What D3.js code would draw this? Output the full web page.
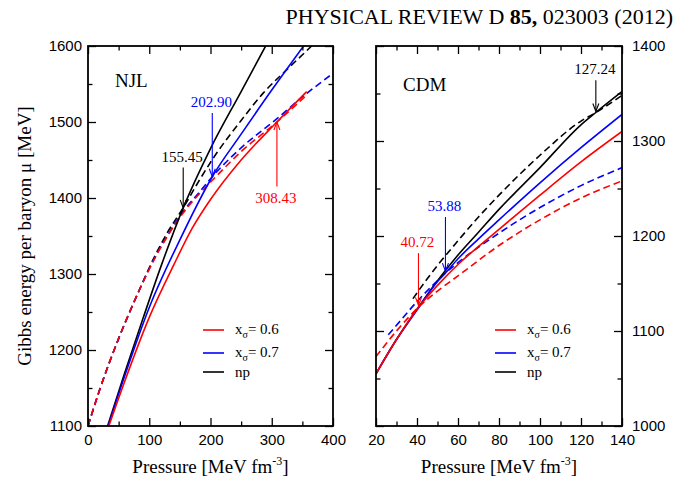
<!DOCTYPE html>
<html>
<head>
<meta charset="utf-8">
<script src="https://cdn.jsdelivr.net/npm/d3@7"></script>
<style>
  body { margin: 0; background: #fff; }
  svg { display: block; font-family: "Liberation Serif", "Times New Roman", serif; }
</style>
</head>
<body>
<svg width="686" height="485"></svg>
<script>
// NJL panel, [pressure, mu]
const njlNpSolid = [[32,1100],[60,1170],[90,1242],[120,1312],[155.45,1387],[200,1465],[250,1540],[290,1600],[310,1630]]
const njlNpDashed = [[0,1100],[20,1150],[50,1215],[80,1272],[110,1325],[130,1355],[155.45,1387],[180,1421],[205,1453],[250,1502],[286,1538],[330,1573],[365,1600],[380,1612]]
const njl07Solid = [[33,1100],[60,1166],[100,1256],[150,1345],[202.9,1428],[250,1484],[300,1542],[352,1600],[370,1620]]
const njl07Dashed = [[0,1100],[20,1150],[50,1215],[80,1272],[110,1323],[130,1351],[155,1382],[180,1406],[202.9,1428],[250,1466],[308,1504],[350,1533],[400,1564]]
const njl06Solid = [[34,1100],[60,1159],[100,1243],[140,1312],[170,1360],[200,1398],[250,1450],[308.43,1500],[357,1540]]
const njl06Dashed = [[0,1100],[20,1150],[50,1215],[80,1272],[110,1322],[130,1350],[155,1380],[180,1404],[205,1425],[250,1461],[308.43,1500],[354,1533]]

// CDM panel
const cdmNpSolid = [[20,1055],[30,1091],[40,1123],[50,1153],[60,1180],[70,1204],[80,1228],[100,1272],[120,1317],[127.24,1330],[140,1352]]
const cdmNpDashed = [[38,1134],[45,1155],[50,1169],[60,1195],[70,1220],[80,1243],[100,1285],[120,1321],[127.24,1330],[140,1348]]
const cdm07Solid = [[20,1055],[30,1091],[40,1122],[50,1152],[53.88,1161],[60,1176],[70,1197],[80,1217],[100,1256],[120,1293],[140,1328]]
const cdm07Dashed = [[26,1096],[30,1106],[40,1131],[50,1153],[53.88,1161],[60,1172],[80,1203],[100,1230],[120,1253],[140,1272]]
const cdm06Solid = [[20,1055],[30,1091],[40,1123],[40.72,1125],[50,1148],[60,1170],[70,1189],[80,1207],[100,1243],[120,1278],[140,1310]]
const cdm06Dashed = [[20,1073],[30,1100],[40.72,1125],[50,1142],[60,1158],[80,1190],[100,1217],[120,1240],[140,1258]]

// crossing points: label, pressure, tip mu, tail mu
const njlCross = [["155.45",155.45,1387,1440],["202.90",202.9,1428,1512],["308.43",308.43,1500,1415]]
const cdmCross = [["127.24",127.24,1331,1364],["53.88",53.88,1163,1220],["40.72",40.72,1127,1182]]

const legendLabels = ["0.6", "0.7", "np"]
const colors = ["#ff0000", "#0000ff", "#000000"]

const svg = d3.select("svg")

svg.append("text")
  .attr("x", 673).attr("y", 24)
  .attr("text-anchor", "end")
  .style("font-size", "22px")
  .call(t => {
    t.append("tspan").text("PHYSICAL REVIEW D ")
    t.append("tspan").attr("font-weight", "bold").text("85,")
    t.append("tspan").text(" 023003 (2012)")
  })

function panel(cfg) {
  const x = d3.scaleLinear().domain(cfg.xDomain).range([cfg.left, cfg.right])
  const y = d3.scaleLinear().domain(cfg.yDomain).range([426, 46])
  const g = svg.append("g")

  const clipId = "clip" + cfg.name
  g.append("clipPath").attr("id", clipId)
    .append("rect")
    .attr("x", cfg.left).attr("y", 46)
    .attr("width", cfg.right - cfg.left).attr("height", 380)

  const line = d3.line()
    .x(d => x(d[0]))
    .y(d => y(d[1]))
    .curve(d3.curveMonotoneX)

  const plot = g.append("g").attr("clip-path", `url(#${clipId})`)
  cfg.series.forEach(s => {
    plot.append("path")
      .attr("d", line(s.data))
      .attr("fill", "none")
      .attr("stroke", s.color)
      .attr("stroke-width", 1.6)
      .attr("stroke-dasharray", s.dashed ? "7,4" : null)
  })

  // ticks, all pointing inwards
  const major = 8, minor = 4.5
  const addAxis = (axis, tr, labels) => {
    const a = g.append("g").attr("transform", tr).call(axis)
    a.select(".domain").remove()
    a.selectAll("line").attr("stroke", "#000").attr("stroke-width", 1.3)
    a.selectAll("text").style("font-size", "15px").attr("fill", "#000")
    if (!labels) a.selectAll("text").remove()
    return a
  }
  addAxis(d3.axisBottom(x).tickValues(cfg.xMajor).tickSize(-major).tickPadding(8).tickFormat(d3.format("d")), "translate(0,426)", true)
  addAxis(d3.axisBottom(x).tickValues(cfg.xMinor).tickSize(-minor), "translate(0,426)", false)
  addAxis(d3.axisTop(x).tickValues(cfg.xMajor).tickSize(-major), "translate(0,46)", false)
  addAxis(d3.axisTop(x).tickValues(cfg.xMinor).tickSize(-minor), "translate(0,46)", false)

  addAxis(d3.axisLeft(y).tickValues(cfg.yMajor).tickSize(-major).tickPadding(6).tickFormat(d3.format("d")), `translate(${cfg.left},0)`, cfg.yLabelSide == "left")
  addAxis(d3.axisLeft(y).tickValues(cfg.yMinor).tickSize(-minor), `translate(${cfg.left},0)`, false)
  addAxis(d3.axisRight(y).tickValues(cfg.yMajor).tickSize(-major).tickPadding(10).tickFormat(d3.format("d")), `translate(${cfg.right},0)`, cfg.yLabelSide == "right")
  addAxis(d3.axisRight(y).tickValues(cfg.yMinor).tickSize(-minor), `translate(${cfg.right},0)`, false)

  g.append("rect")
    .attr("x", cfg.left).attr("y", 46)
    .attr("width", cfg.right - cfg.left).attr("height", 380)
    .attr("fill", "none").attr("stroke", "#000").attr("stroke-width", 1.8)

  // crossing arrows
  cfg.cross.forEach((c, i) => {
    const col = cfg.crossColors[i]
    const px = x(c[1]), tip = y(c[2]), tail = y(c[3])
    const dir = tip > tail ? 1 : -1
    g.append("line")
      .attr("x1", px).attr("x2", px).attr("y1", tail).attr("y2", tip)
      .attr("stroke", col).attr("stroke-width", 1.1)
    g.append("path")
      .attr("d", `M${px - 3},${tip - dir * 8}L${px},${tip}L${px + 3},${tip - dir * 8}`)
      .attr("fill", "none").attr("stroke", col).attr("stroke-width", 1.1)
    g.append("text")
      .attr("x", px - 1)
      .attr("y", dir > 0 ? tail - 6 : tail + 16)
      .attr("text-anchor", "middle")
      .attr("fill", col)
      .style("font-size", "15px")
      .text(c[0])
  })

  g.append("text")
    .attr("x", cfg.nameX).attr("y", cfg.nameY)
    .style("font-size", "19px")
    .text(cfg.name)

  // legend
  const ly = [330, 353, 372]
  legendLabels.forEach((lab, i) => {
    g.append("line")
      .attr("x1", cfg.legendX).attr("x2", cfg.legendX + 21)
      .attr("y1", ly[i]).attr("y2", ly[i])
      .attr("stroke", colors[i]).attr("stroke-width", 1.6)
    const t = g.append("text")
      .attr("x", cfg.legendX + 32).attr("y", ly[i] + 4)
      .style("font-size", "15px")
    if (lab == "np") {
      t.attr("y", ly[i] + 5).text("np")
    } else {
      t.append("tspan").text("x")
      t.append("tspan").attr("dy", 4).style("font-size", "10px").text("σ")
      t.append("tspan").attr("dy", -4).text("= " + lab)
    }
  })

  const xt = svg.append("text")
    .attr("x", (cfg.left + cfg.right) / 2).attr("y", 473)
    .attr("text-anchor", "middle")
    .style("font-size", "19px")
  xt.append("tspan").text("Pressure [MeV fm")
  xt.append("tspan").attr("dy", -8).style("font-size", "12px").text("-3")
  xt.append("tspan").attr("dy", 8).text("]")
}

panel({
  name: "NJL", left: 88, right: 333,
  xDomain: [0, 400], yDomain: [1100, 1600],
  xMajor: [0, 100, 200, 300, 400], xMinor: [50, 150, 250, 350],
  yMajor: [1100, 1200, 1300, 1400, 1500, 1600], yMinor: [1150, 1250, 1350, 1450, 1550],
  yLabelSide: "left",
  series: [
    {data: njlNpDashed, color: colors[2], dashed: true},
    {data: njl07Dashed, color: colors[1], dashed: true},
    {data: njl06Dashed, color: colors[0], dashed: true},
    {data: njlNpSolid, color: colors[2]},
    {data: njl07Solid, color: colors[1]},
    {data: njl06Solid, color: colors[0]}
  ],
  cross: njlCross, crossColors: [colors[2], colors[1], colors[0]],
  nameX: 115, nameY: 87, legendX: 203
})

panel({
  name: "CDM", left: 376, right: 622,
  xDomain: [20, 140], yDomain: [1000, 1400],
  xMajor: [20, 40, 60, 80, 100, 120, 140], xMinor: [30, 50, 70, 90, 110, 130],
  yMajor: [1000, 1100, 1200, 1300, 1400], yMinor: [1050, 1150, 1250, 1350],
  yLabelSide: "right",
  series: [
    {data: cdmNpDashed, color: colors[2], dashed: true},
    {data: cdm07Dashed, color: colors[1], dashed: true},
    {data: cdm06Dashed, color: colors[0], dashed: true},
    {data: cdmNpSolid, color: colors[2]},
    {data: cdm07Solid, color: colors[1]},
    {data: cdm06Solid, color: colors[0]}
  ],
  cross: cdmCross, crossColors: [colors[2], colors[1], colors[0]],
  nameX: 403, nameY: 91, legendX: 495
})

svg.append("text")
  .attr("transform", "translate(31,236) rotate(-90)")
  .attr("text-anchor", "middle")
  .style("font-size", "19px")
  .text("Gibbs energy per baryon μ [MeV]")
</script>
</body>
</html>
